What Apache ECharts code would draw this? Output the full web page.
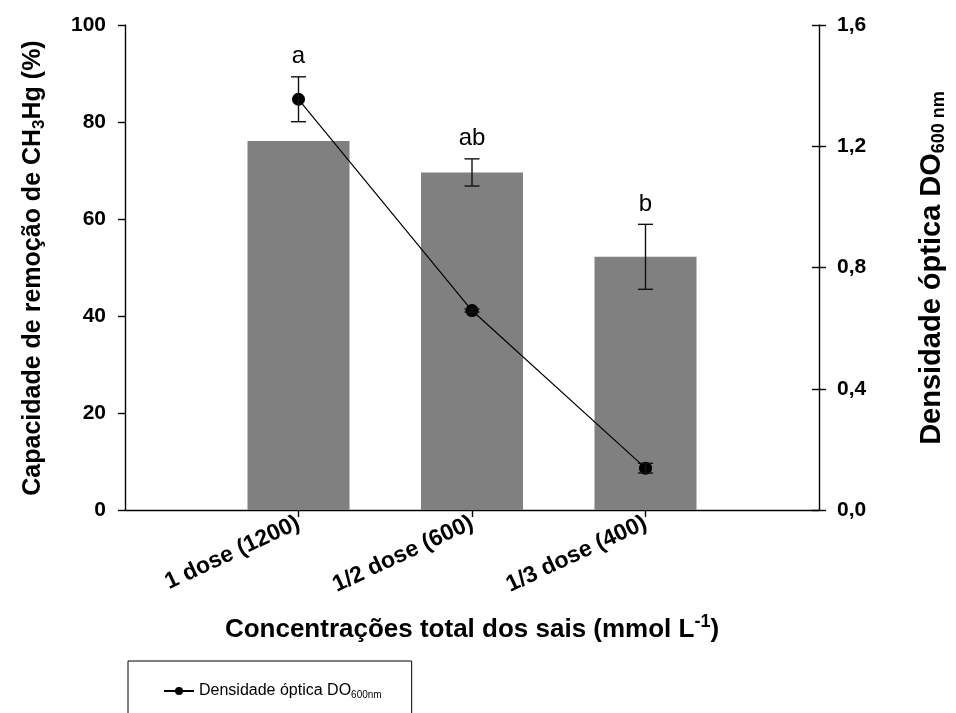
<!DOCTYPE html>
<html>
<head>
<meta charset="utf-8">
<script src="https://cdn.jsdelivr.net/npm/echarts@6/dist/echarts.min.js"></script>
<style>
  html, body { margin: 0; padding: 0; background: #fff; }
  #chart { width: 956px; height: 713px; }
</style>
</head>
<body>
<div id="chart"></div>
<script>
// Categories (empty slots pad the axis so the three doses sit at 1/4, 2/4, 3/4)
const categories = ['', '1 dose (1200)', '1/2 dose (600)', '1/3 dose (400)', ''];

// CH3Hg removal capacity (%) – bars, left axis
const removal    = [null, 76.1, 69.6, 52.2, null];
const removalErr = [null, null, 2.8, 6.7, null];

// Optical density DO600nm – line, right axis
const density    = [null, 1.355, 0.658, 0.138, null];
const densityErr = [null, 0.074, 0.005, 0.016, null];

// Significance letters
const letters = [null, 'a', 'ab', 'b', null];

// Axis ranges
const leftAxis  = { min: 0, max: 100, interval: 20 };
const rightAxis = { min: 0, max: 1.6, interval: 0.4 };

const FONT = '"Liberation Sans", Arial, Helvetica, sans-serif';
const ratio = leftAxis.max / rightAxis.max;

const removalErrData = [];
const densityErrData = [];
const letterData = [];
categories.forEach((c, i) => {
  if (removal[i] != null && removalErr[i] != null) removalErrData.push([i, removal[i], removalErr[i]]);
  if (density[i] != null && densityErr[i] != null) densityErrData.push([i, density[i], densityErr[i]]);
  if (letters[i]) {
    const barTop = removal[i] + (removalErr[i] || 0);
    const ptTop = (density[i] + (densityErr[i] || 0)) * ratio;
    letterData.push([i, Math.max(barTop, ptTop)]);
  }
});

function renderErrorBar(params, api) {
  const i = api.value(0), m = api.value(1), e = api.value(2);
  const top = api.coord([i, m + e]);
  const bot = api.coord([i, m - e]);
  const hw = 7.5;
  const st = { stroke: '#111', lineWidth: 1.4 };
  return {
    type: 'group',
    children: [
      { type: 'line', shape: { x1: top[0], y1: top[1], x2: bot[0], y2: bot[1] }, style: st },
      { type: 'line', shape: { x1: top[0] - hw, y1: top[1], x2: top[0] + hw, y2: top[1] }, style: st },
      { type: 'line', shape: { x1: bot[0] - hw, y1: bot[1], x2: bot[0] + hw, y2: bot[1] }, style: st }
    ]
  };
}

function renderLetter(params, api) {
  const i = api.value(0);
  const p = api.coord([i, api.value(1)]);
  return {
    type: 'text',
    style: {
      x: p[0], y: p[1] - 20,
      text: letters[i],
      font: '24px ' + FONT,
      fill: '#000',
      align: 'center',
      verticalAlign: 'middle'
    }
  };
}

const chart = echarts.init(document.getElementById('chart'), null, { renderer: 'canvas' });

const axisLineStyle = { color: '#000', width: 1.4 };
const tickLabelStyle = { color: '#000', fontFamily: FONT, fontWeight: 'bold', fontSize: 21 };
const showIdx = (idx) => idx >= 1 && idx <= 3;

chart.setOption({
  animation: false,
  backgroundColor: '#fff',
  grid: { left: 125, right: 137, top: 25, bottom: 203, containLabel: false },
  xAxis: {
    type: 'category',
    data: categories,
    boundaryGap: false,
    axisLine: { lineStyle: axisLineStyle },
    axisTick: { show: true, length: 7, interval: (idx) => showIdx(idx), lineStyle: axisLineStyle },
    axisLabel: Object.assign({}, tickLabelStyle, { fontSize: 23, rotate: 25, margin: 12, interval: (idx) => showIdx(idx) }),
    splitLine: { show: false }
  },
  yAxis: [
    {
      type: 'value', position: 'left',
      min: leftAxis.min, max: leftAxis.max, interval: leftAxis.interval,
      axisLine: { show: true, lineStyle: axisLineStyle },
      axisTick: { show: true, length: 7, lineStyle: axisLineStyle },
      axisLabel: Object.assign({ margin: 19 }, tickLabelStyle),
      splitLine: { show: false }
    },
    {
      type: 'value', position: 'right',
      min: rightAxis.min, max: rightAxis.max, interval: rightAxis.interval,
      axisLine: { show: true, lineStyle: axisLineStyle },
      axisTick: { show: true, length: 7, lineStyle: axisLineStyle },
      axisLabel: Object.assign({ margin: 18, formatter: (v) => v.toFixed(1).replace('.', ',') }, tickLabelStyle),
      splitLine: { show: false }
    },
    {
      // inner half of the crossing ticks on the right axis
      type: 'value', position: 'right',
      min: rightAxis.min, max: rightAxis.max, interval: rightAxis.interval,
      axisLine: { show: false },
      axisTick: { show: true, inside: true, length: 7, lineStyle: axisLineStyle },
      axisLabel: { show: false },
      splitLine: { show: false }
    }
  ],
  legend: {
    left: 128, top: 661,
    data: ['Densidade óptica DO600nm'],
    itemWidth: 30, itemHeight: 10,
    padding: [22, 30, 30, 35],
    borderColor: '#000', borderWidth: 1,
    formatter: () => '{t|Densidade óptica DO}{s|600nm}',
    textStyle: {
      color: '#000', fontFamily: FONT,
      rich: {
        t: { fontSize: 16, fontFamily: FONT, color: '#000' },
        s: { fontSize: 10, fontFamily: FONT, color: '#000', padding: [9, 0, 0, 0] }
      }
    }
  },
  series: [
    {
      name: 'Remoção CH3Hg', type: 'bar', yAxisIndex: 0,
      data: removal, barWidth: 102,
      itemStyle: { color: '#808080' }, z: 2
    },
    {
      name: 'erro remoção', type: 'custom', yAxisIndex: 0,
      data: removalErrData, renderItem: renderErrorBar, z: 3
    },
    {
      name: 'Densidade óptica DO600nm', type: 'line', yAxisIndex: 1,
      data: density, symbol: 'circle', symbolSize: 13,
      itemStyle: { color: '#000' }, lineStyle: { color: '#000', width: 1.2 }, z: 4
    },
    {
      name: 'erro densidade', type: 'custom', yAxisIndex: 1,
      data: densityErrData, renderItem: renderErrorBar, z: 5
    },
    {
      name: 'letras', type: 'custom', yAxisIndex: 0,
      data: letterData, renderItem: renderLetter, z: 6
    }
  ],
  graphic: [
    {
      type: 'text', x: 33, y: 268, rotation: Math.PI / 2,
      style: {
        text: '{b|Capacidade de remoção de CH}{s|3}{b|Hg (%)}',
        align: 'center', verticalAlign: 'middle',
        rich: {
          b: { font: 'bold 25px ' + FONT, fill: '#000' },
          s: { font: 'bold 17px ' + FONT, fill: '#000', padding: [12, 0, 0, 0] }
        }
      }
    },
    {
      type: 'text', x: 932, y: 268, rotation: Math.PI / 2,
      style: {
        text: '{b|Densidade óptica DO}{s|600 nm}',
        align: 'center', verticalAlign: 'middle',
        rich: {
          b: { font: 'bold 29px ' + FONT, fill: '#000' },
          s: { font: 'bold 18px ' + FONT, fill: '#000', padding: [14, 0, 0, 0] }
        }
      }
    },
    {
      type: 'text', x: 472, y: 630,
      style: {
        text: '{b|Concentrações total dos sais (mmol L}{p|-1}{b|)}',
        align: 'center', verticalAlign: 'middle',
        rich: {
          b: { font: 'bold 26px ' + FONT, fill: '#000' },
          p: { font: 'bold 18px ' + FONT, fill: '#000', padding: [0, 0, 16, 0] }
        }
      }
    }
  ]
});
</script>
</body>
</html>
